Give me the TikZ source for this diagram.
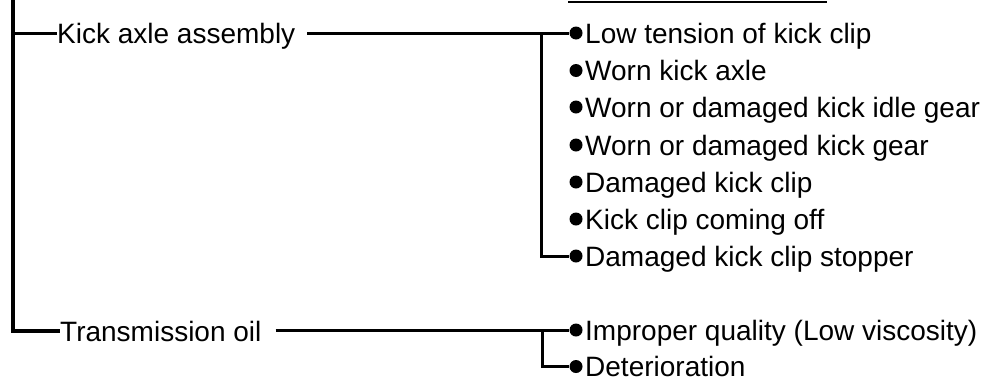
\documentclass[tikz,border=0pt]{standalone}
\usepackage{fontspec}
\setmainfont{Liberation Sans}
\begin{document}
\begin{tikzpicture}[x=1pt,y=-1pt,
  lbl/.style={anchor=base west,inner sep=0pt,font=\fontsize{28}{30}\selectfont},
  bul/.style={circle,fill,inner sep=0pt,minimum size=13pt},
  conn/.style={line width=3pt},
  trunk/.style={line width=3.5pt}]
\useasboundingbox (0,0) rectangle (1000,381);
% labels
\node[lbl] (kick) at (57,43) {Kick axle assembly};
\node[lbl] (trans) at (60,341) {Transmission oil};
% bullets and items
\foreach \n/\y/\t in {1/33/Low tension of kick clip,
                      2/70.5/Worn kick axle,
                      3/107/Worn or damaged kick idle gear,
                      4/145/Worn or damaged kick gear,
                      5/182/Damaged kick clip,
                      6/219/Kick clip coming off,
                      7/256/Damaged kick clip stopper,
                      8/330/Improper quality (Low viscosity),
                      9/366.5/Deterioration}{
  \node[bul] (b\n) at (576,\y) {};
  \node[lbl] (t\n) at (585,\y+10) {\t};
}
% coordinates
\coordinate (top) at (13,0);
\coordinate (bot) at (13,331);
\coordinate (br1) at (13,33);
\coordinate (j1) at (541,33);
\coordinate (j1b) at (541,256);
\coordinate (j2) at (542,330);
\coordinate (j2b) at (542,366.5);
\coordinate (ul1) at (568,2);
\coordinate (ul2) at (827,2);
% trunk
\draw[trunk] (top) -- (bot) -- (trans.west |- bot);
\draw[conn] (br1) -- (kick.west |- br1);
% kick branch
\draw[conn] ([xshift=12pt]kick.east |- j1) -- (j1) -- (b1.west);
\draw[conn] (j1) -- (j1b) -- (b7.west);
% transmission branch
\draw[conn] ([xshift=14pt]trans.east |- j2) -- (j2) -- (b8.west);
\draw[conn] (j2) -- (j2b) -- (b9.west);
% top line fragment
\draw[line width=1.3pt] (ul1) -- (ul2);
\end{tikzpicture}
\end{document}
